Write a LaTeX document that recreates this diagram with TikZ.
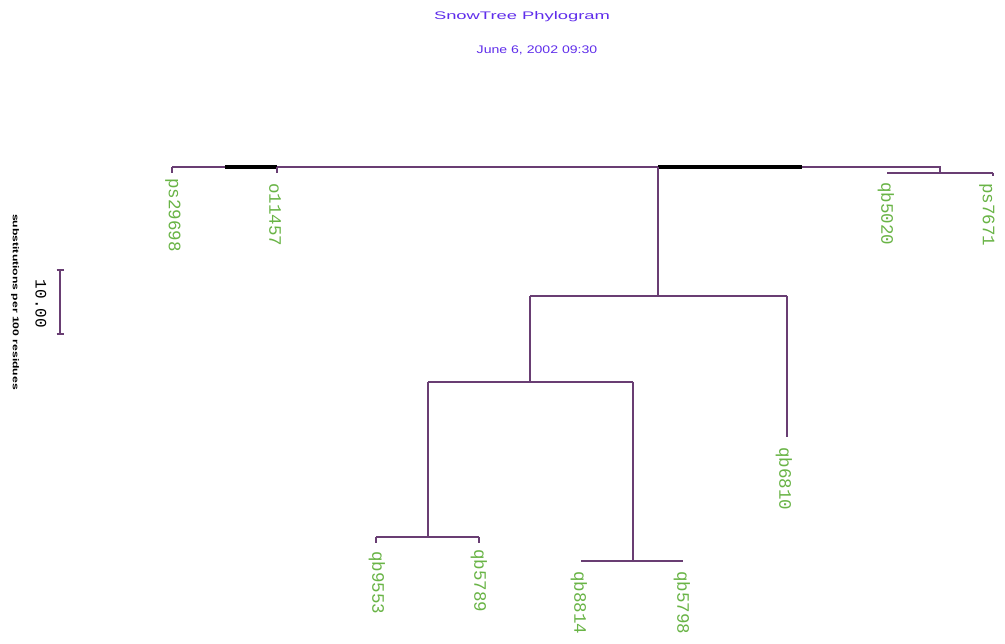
\documentclass[tikz,border=0pt]{standalone}
\usepackage{fontspec}
\usepackage{graphicx}
\setmainfont{Liberation Sans}
\newfontfamily\labfont{Liberation Mono}
\definecolor{branch}{RGB}{105,62,115}
\definecolor{leafgreen}{RGB}{105,180,70}
\definecolor{headblue}{RGB}{95,45,235}
\begin{document}
\begin{tikzpicture}[x=1pt,y={(0,-1pt)},
  branchline/.style={draw=branch,line width=1.6pt},
  boldline/.style={draw=black,line width=3.4pt},
  leaf/.style={rotate=-90,anchor=west,inner sep=0pt,text=leafgreen,font=\labfont\fontsize{17.5}{17.5}\selectfont},
  heading/.style={text=headblue,font=\fontsize{11}{11}\selectfont}]
\useasboundingbox (0,0) rectangle (1005,644);
\fill[white] (0,0) rectangle (1005,644);

% heading
\node[heading,xscale=1.67] (title) at (522,17) {SnowTree Phylogram};
\node[heading,xscale=1.28] (date) at (537,50) {June 6, 2002 09:30};

% scale bar
\coordinate (sbtop) at (60,270);
\coordinate (sbbot) at (60,334);
\draw[branchline] (sbtop) -- (sbbot);
\draw[branchline] ([xshift=-3.5]sbtop) -- ([xshift=3.5]sbtop);
\draw[branchline] ([xshift=-3.5]sbbot) -- ([xshift=3.5]sbbot);
\node[rotate=-90,font=\labfont\fontsize{16}{16}\selectfont] (sbval) at (41,304) {10.00};
\node[rotate=-90,font=\fontsize{8.5}{8.5}\selectfont\bfseries] (sbunit) at (15,302) {\scalebox{1.43}[1]{substitutions per 100 residues}};

% tree vertices
\coordinate (tA) at (172,167);   % left tip
\coordinate (tB) at (277,167);   % second tip
\coordinate (root) at (658,167);
\coordinate (rend) at (940,167);
\coordinate (rdrop) at (940,173);
\coordinate (tC) at (887,173);
\coordinate (tD) at (993,173);
\coordinate (n1) at (658,296);
\coordinate (n1l) at (530,296);
\coordinate (n1r) at (787,296);
\coordinate (tE) at (787,437);
\coordinate (n2) at (530,382);
\coordinate (n2l) at (428,382);
\coordinate (n2r) at (633,382);
\coordinate (n3) at (428,537);
\coordinate (tF) at (376,537);
\coordinate (tG) at (479,537);
\coordinate (n4) at (633,561);
\coordinate (tH) at (581,561);
\coordinate (tI) at (683,561);

% branches
\draw[branchline] (tA) -- (rend) -- (rdrop);
\draw[branchline] (tC) -- (tD);
\draw[boldline] (225,167) -- (tB);
\draw[boldline] (root) -- (802,167);
\draw[branchline] (root) -- (n1);
\draw[branchline] (n1l) -- (n1r);
\draw[branchline] (n1r) -- (tE);
\draw[branchline] (n1l) -- (n2);
\draw[branchline] (n2l) -- (n2r);
\draw[branchline] (n2l) -- (n3);
\draw[branchline] (tF) -- (tG);
\draw[branchline] (n2r) -- (n4);
\draw[branchline] (tH) -- (tI);

% short ticks at the tips
\foreach \t in {tA,tB,tF,tG}
  \draw[branchline] (\t) -- ++(0,6);
\draw[branchline] (tD) -- ++(0,3);

% leaf labels
\node[leaf] (lA) at (173,178) {ps29698};
\node[leaf] (lB) at (275,183) {o11457};
\node[leaf] (lC) at (886,182) {qb5020};
\node[leaf] (lD) at (987,183) {ps7671};
\node[leaf] (lE) at (784,447) {qb6810};
\node[leaf] (lF) at (377,551) {qb9553};
\node[leaf] (lG) at (479,549) {qb5789};
\node[leaf] (lH) at (579,571) {qb8814};
\node[leaf] (lI) at (682,571) {qb5798};
\end{tikzpicture}
\end{document}
